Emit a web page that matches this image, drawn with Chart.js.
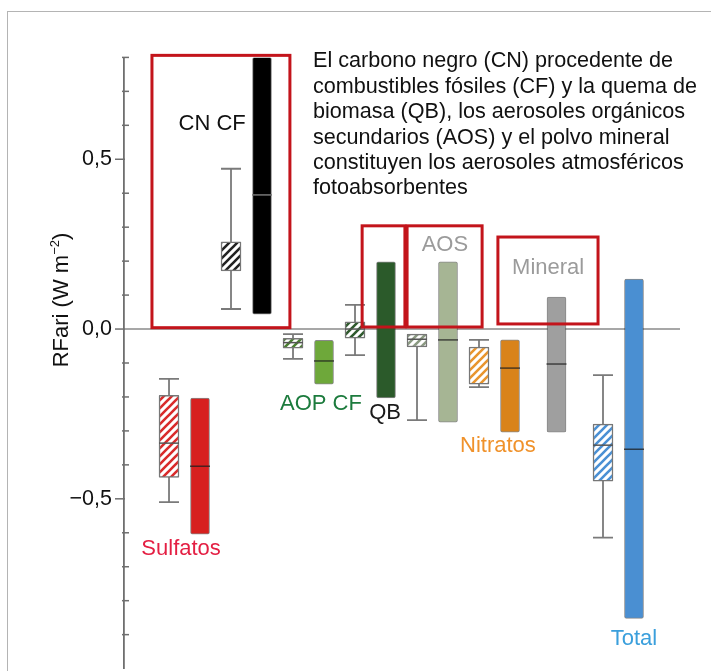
<!DOCTYPE html>
<html>
<head>
<meta charset="utf-8">
<script src="https://cdn.jsdelivr.net/npm/chart.js@4/dist/chart.umd.min.js"></script>
<style>
  body { margin: 0; background: #fff; }
  #wrap { position: relative; width: 711px; height: 671px; overflow: hidden; }
  #frame { position: absolute; left: 7px; top: 11px; width: 760px; height: 720px;
           border-top: 1.5px solid #b4b4b4; border-left: 1.5px solid #b4b4b4; }
  canvas { position: absolute; left: 0; top: 0; }
</style>
</head>
<body>
<div id="wrap">
  <div id="frame"></div>
  <canvas id="chart" width="711" height="671"></canvas>
</div>
<script>
// hatched boxes (model range): position, whisker low, q1, median, q3, whisker high
const boxPos   = [0, 2, 4, 6, 8, 10, 14];
const boxLow   = [-0.51, 0.059, -0.088, -0.077, -0.268, -0.171, -0.614];
const boxQ1    = [-0.437, 0.171, -0.056, -0.027, -0.053, -0.162, -0.448];
const boxMed   = [-0.336, null, -0.040, 0.000, -0.030, null, -0.342];
const boxQ3    = [-0.195, 0.257, -0.027, 0.021, -0.015, -0.053, -0.280];
const boxHigh  = [-0.147, 0.472, -0.015, 0.071, -0.015, -0.032, -0.136];

// solid bars (assessed range): position, low, median, high
const barPos   = [1, 3, 5, 7, 9, 11, 12.5, 15];
const barLow   = [-0.604, 0.044, -0.162, -0.203, -0.274, -0.304, -0.304, -0.852];
const barMed   = [-0.404, 0.395, -0.094, null, -0.032, -0.115, -0.103, -0.354];
const barHigh  = [-0.203, 0.800, -0.033, 0.198, 0.198, -0.032, 0.094, 0.147];

// category labels
const labels   = ['Sulfatos', 'CN CF', 'AOP CF', 'QB', 'AOS', 'Nitratos', 'Mineral', 'Total'];
const labelX   = [0.39, 1.39, 4.9, 6.97, 8.9, 10.61, 12.23, 15.0];
const labelY   = [-0.649, 0.605, -0.221, -0.248, 0.248, -0.345, 0.18, -0.912];

// red outline groups: x from, x to, y bottom, y top
const groupX0  = [-0.55, 6.23, 7.68, 10.61];
const groupX1  = [3.9, 7.61, 10.1, 13.84];
const groupY0  = [0.004, 0.006, 0.006, 0.015];
const groupY1  = [0.806, 0.304, 0.304, 0.271];

const yTicks   = [-0.5, 0, 0.5];
const tickText = ['\u22120,5', '0,0', '0,5'];

const note = [
  'El carbono negro (CN) procedente de',
  'combustibles fósiles (CF) y la quema de',
  'biomasa (QB), los aerosoles orgánicos',
  'secundarios (AOS) y el polvo mineral',
  'constituyen los aerosoles atmosféricos',
  'fotoabsorbentes'
];
const noteX = 4.645, noteY = 0.788;

const solidColors = ['#d7201f', '#000000', '#6ea83a', '#2b5a2a', '#a6b594', '#d9831a', '#9f9f9f', '#4a8fd2'];
const hatchColors = ['#d92b2b', '#222222', '#4a7f30', '#2f5a2d', '#8b9a82', '#e8952e', '#4a90d4'];
const labelColors = ['#e41f43', '#111111', '#1c7b3d', '#1a1a1a', '#9b9b9b', '#f0922b', '#9b9b9b', '#3a9fdc'];

const FONT = '"Liberation Sans", Arial, sans-serif';

function hatch(color) {
  const c = document.createElement('canvas');
  c.width = 8; c.height = 8;
  const g = c.getContext('2d');
  g.fillStyle = '#fff';
  g.fillRect(0, 0, 8, 8);
  g.strokeStyle = color;
  g.lineWidth = 2.6;
  g.beginPath();
  g.moveTo(-2, 10); g.lineTo(10, -2);
  g.moveTo(-6, 6); g.lineTo(6, -6);
  g.moveTo(2, 14); g.lineTo(14, 2);
  g.stroke();
  return g.createPattern(c, 'repeat');
}

const overlay = {
  id: 'overlay',
  beforeDatasetsDraw(chart) {
    const { ctx, scales: { x, y }, chartArea } = chart;
    ctx.save();
    // zero line
    ctx.strokeStyle = '#8a8a8a';
    ctx.lineWidth = 1.5;
    ctx.beginPath();
    ctx.moveTo(chartArea.left, y.getPixelForValue(0));
    ctx.lineTo(chartArea.right, y.getPixelForValue(0));
    ctx.stroke();
    // whiskers
    ctx.strokeStyle = '#7a7a7a';
    ctx.lineWidth = 1.8;
    boxPos.forEach((p, i) => {
      const cx = x.getPixelForValue(p);
      const lo = y.getPixelForValue(boxLow[i]);
      const hi = y.getPixelForValue(boxHigh[i]);
      ctx.beginPath();
      ctx.moveTo(cx, lo); ctx.lineTo(cx, hi);
      if (boxLow[i] < boxQ1[i]) { ctx.moveTo(cx - 10, lo); ctx.lineTo(cx + 10, lo); }
      if (boxHigh[i] > boxQ3[i]) { ctx.moveTo(cx - 10, hi); ctx.lineTo(cx + 10, hi); }
      ctx.stroke();
    });
    ctx.restore();
  },
  afterDatasetsDraw(chart) {
    const { ctx, scales: { x, y } } = chart;
    ctx.save();
    // medians
    ctx.lineWidth = 1.5;
    boxPos.forEach((p, i) => {
      if (boxMed[i] === null) return;
      const cx = x.getPixelForValue(p), my = y.getPixelForValue(boxMed[i]);
      ctx.strokeStyle = '#555';
      ctx.beginPath(); ctx.moveTo(cx - 10, my); ctx.lineTo(cx + 10, my); ctx.stroke();
    });
    barPos.forEach((p, i) => {
      if (barMed[i] === null) return;
      const cx = x.getPixelForValue(p), my = y.getPixelForValue(barMed[i]);
      ctx.strokeStyle = i === 1 ? '#777' : 'rgba(30,30,30,0.75)';
      ctx.beginPath(); ctx.moveTo(cx - 10, my); ctx.lineTo(cx + 10, my); ctx.stroke();
    });
    // red group outlines
    ctx.strokeStyle = '#c3141b';
    ctx.lineWidth = 3;
    groupX0.forEach((gx, i) => {
      const l = x.getPixelForValue(gx), r = x.getPixelForValue(groupX1[i]);
      const t = y.getPixelForValue(groupY1[i]), b = y.getPixelForValue(groupY0[i]);
      ctx.strokeRect(l, t, r - l, b - t);
    });
    // category labels
    ctx.font = '22px ' + FONT;
    ctx.textAlign = 'center';
    ctx.textBaseline = 'middle';
    labels.forEach((s, i) => {
      ctx.fillStyle = labelColors[i];
      ctx.fillText(s, x.getPixelForValue(labelX[i]), y.getPixelForValue(labelY[i]));
    });
    // note
    ctx.font = '21.6px ' + FONT;
    ctx.textAlign = 'left';
    ctx.fillStyle = '#111';
    const nx = x.getPixelForValue(noteX), ny = y.getPixelForValue(noteY);
    note.forEach((s, i) => ctx.fillText(s, nx, ny + i * 25.4));
    ctx.restore();
  },
  afterDraw(chart) {
    const { ctx, scales: { y }, chartArea } = chart;
    const ax = chartArea.left;
    ctx.save();
    ctx.strokeStyle = '#6f6f6f';
    ctx.lineWidth = 1.5;
    for (let k = -9; k <= 8; k++) {
      const py = y.getPixelForValue(k / 10);
      ctx.beginPath();
      if (k % 5 === 0) { ctx.moveTo(ax - 9, py); ctx.lineTo(ax + 1, py); }
      else { ctx.moveTo(ax - 2, py); ctx.lineTo(ax + 5, py); }
      ctx.stroke();
    }
    // axis title with superscript
    ctx.translate(62, 300);
    ctx.rotate(-Math.PI / 2);
    ctx.fillStyle = '#111';
    ctx.textBaseline = 'middle';
    ctx.textAlign = 'left';
    const a = 'RFari (W m', b = '\u22122', c = ')';
    ctx.font = '22px ' + FONT;
    const wa = ctx.measureText(a).width, wc = ctx.measureText(c).width;
    ctx.font = '13px ' + FONT;
    const wb = ctx.measureText(b).width;
    let sx = -(wa + wb + wc) / 2;
    ctx.font = '22px ' + FONT;
    ctx.fillText(a, sx, 0);
    ctx.font = '13px ' + FONT;
    ctx.fillText(b, sx + wa, -7);
    ctx.font = '22px ' + FONT;
    ctx.fillText(c, sx + wa + wb, 0);
    ctx.restore();
  }
};

new Chart(document.getElementById('chart'), {
  type: 'bar',
  data: {
    datasets: [
      {
        data: boxPos.map((p, i) => ({ x: p, y: [boxQ1[i], boxQ3[i]] })),
        backgroundColor: hatchColors.map(hatch),
        borderColor: '#777',
        borderWidth: 1.5,
        borderSkipped: false,
        borderRadius: 1,
        barThickness: 20,
        grouped: false
      },
      {
        data: barPos.map((p, i) => ({ x: p, y: [barLow[i], barHigh[i]] })),
        backgroundColor: solidColors,
        borderColor: 'rgba(40,40,40,0.55)',
        borderWidth: 1,
        borderSkipped: false,
        borderRadius: 2,
        barThickness: 19,
        grouped: false
      }
    ]
  },
  options: {
    responsive: false,
    animation: false,
    layout: { padding: { top: 57.4, bottom: 2.4, left: 0, right: 31 } },
    plugins: { legend: { display: false }, tooltip: { enabled: false } },
    scales: {
      x: { type: 'linear', min: -1.452, max: 16.484, offset: false, display: false },
      y: {
        min: -1.0,
        max: 0.8,
        afterFit(scale) { scale.width = 124; scale.paddingTop = 0; scale.paddingBottom = 0; },
        border: { display: true, color: '#6f6f6f', width: 1.8 },
        grid: { display: false, drawTicks: false },
        ticks: {
          stepSize: 0.1,
          autoSkip: false,
          padding: 12,
          color: '#111',
          font: { family: FONT, size: 21.5 },
          callback(v) {
            const k = yTicks.findIndex(t => Math.abs(t - v) < 1e-6);
            return k >= 0 ? tickText[k] : '';
          }
        }
      }
    }
  },
  plugins: [overlay]
});
</script>
</body>
</html>
